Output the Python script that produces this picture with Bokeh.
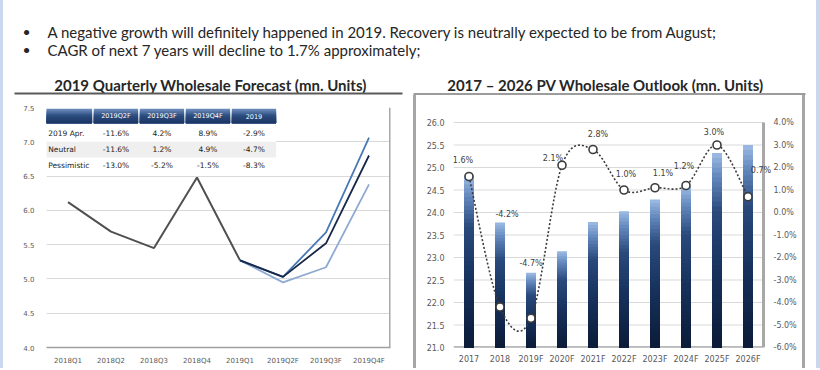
import numpy as np
from bokeh.plotting import figure
from bokeh.models import (Range1d, LinearAxis, FixedTicker, PrintfTickFormatter,
                          ColumnDataSource, Span, Div)
from bokeh.layouts import column, row
from bokeh.core.properties import value
from bokeh.embed import file_html
from bokeh.resources import INLINE

# ---------------- data ----------------
bullets = ["A negative growth will definitely happened in 2019. Recovery is neutrally expected to be from August;",
           "CAGR of next 7 years will decline to 1.7% approximately;"]
title_left = "2019 Quarterly Wholesale Forecast (mn. Units)"
title_right = "2017 \u2013 2026 PV Wholesale Outlook (mn. Units)"

quarters = ["2018Q1", "2018Q2", "2018Q3", "2018Q4", "2019Q1", "2019Q2F", "2019Q3F", "2019Q4F"]
hist_sales = [6.12, 5.69, 5.45, 6.48, 5.27]
apr_fc = [5.03, 5.68, 7.06]
neutral_fc = [5.03, 5.52, 6.80]
pess_fc = [4.95, 5.17, 6.38]
left_ticks = [4.0, 4.5, 5.0, 5.5, 6.0, 6.5, 7.0, 7.5]

table_cols = ["2019Q2F", "2019Q3F", "2019Q4F", "2019"]
table_rows = ["2019 Apr.", "Neutral", "Pessimistic"]
table_apr = ["-11.6%", "4.2%", "8.9%", "-2.9%"]
table_neutral = ["-11.6%", "1.2%", "4.9%", "-4.7%"]
table_pess = ["-13.0%", "-5.2%", "-1.5%", "-8.3%"]

years = ["2017", "2018", "2019F", "2020F", "2021F", "2022F", "2023F", "2024F", "2025F", "2026F"]
wholesale = [24.82, 23.78, 22.66, 23.14, 23.79, 24.03, 24.29, 24.58, 25.32, 25.50]
growth = [1.6, -4.2, -4.7, 2.1, 2.8, 1.0, 1.1, 1.2, 3.0, 0.7]
vol_ticks = [21.0, 21.5, 22.0, 22.5, 23.0, 23.5, 24.0, 24.5, 25.0, 25.5, 26.0]
pct_ticks = [-6, -5, -4, -3, -2, -1, 0, 1, 2, 3, 4]

# ---------------- helpers ----------------
def hex2rgb(h):
    h = h.lstrip("#")
    return np.array([int(h[i:i + 2], 16) for i in (0, 2, 4)], dtype=float)

def ramp(stops, f):
    pos = [s[0] for s in stops]
    cols = np.array([hex2rgb(s[1]) for s in stops])
    rgb = [np.interp(f, pos, cols[:, c]) for c in range(3)]
    return "#%02x%02x%02x" % tuple(int(round(v)) for v in rgb)

def smooth(xs, ys, n=24):
    P = np.column_stack([xs, ys]).astype(float)
    E = np.vstack([P[0], P, P[-1]])
    out = []
    t = np.linspace(0, 1, n)[:, None]
    for i in range(len(P) - 1):
        p0, p1, p2, p3 = E[i], E[i + 1], E[i + 2], E[i + 3]
        c1 = p1 + (p2 - p0) / 6.0
        c2 = p2 - (p3 - p1) / 6.0
        seg = (1 - t) ** 3 * p1 + 3 * (1 - t) ** 2 * t * c1 + 3 * (1 - t) * t ** 2 * c2 + t ** 3 * p2
        out.append(seg if i == 0 else seg[1:])
    S = np.vstack(out)
    return S[:, 0], S[:, 1]

TXT = "#262626"
TICK = "#595959"
TICKFONT = "DejaVu Sans"
CH = 273          # chart row height
TOPB, BOTB = 12, 21

# ---------------- header ----------------
HW, HH = 813, 95
hdr = figure(width=HW, height=HH, x_range=Range1d(0, HW), y_range=Range1d(HH, 0),
             output_backend="svg", toolbar_location=None, min_border=0,
             outline_line_color=None, x_axis_location=None, y_axis_location=None)
hdr.grid.visible = False
hdr.text(x=[19, 19], y=[31, 49], text=["\u2022", "\u2022"], text_font=value("Lato"),
         text_font_size="14px", text_color=TXT, text_align="left", text_baseline="middle")
hdr.text(x=[44, 44], y=[31, 49], text=bullets, text_font=value("Lato"),
         text_font_size="15px", text_color=TXT, text_align="left", text_baseline="middle")
hdr.text(x=[207, 602], y=[84, 84], text=[title_left, title_right], text_font=value("Lato"),
         text_font_style="bold", text_font_size="15px", text_color=TXT,
         text_align="center", text_baseline="middle")
hdr.segment(x0=[11], y0=[93], x1=[399], y1=[93], line_color="#5a5a5a", line_width=2)
hdr.segment(x0=[410], y0=[94], x1=[802], y1=[94], line_color="#9c9c9c", line_width=3)

# ---------------- left chart ----------------
lf = figure(width=410, height=CH, x_range=Range1d(-0.5, len(quarters) - 0.5),
            y_range=Range1d(left_ticks[0], left_ticks[-1]),
            output_backend="svg", toolbar_location=None,
            min_border_left=43, min_border_right=23, min_border_top=TOPB, min_border_bottom=BOTB,
            outline_line_color=None)
lf.xaxis.ticker = FixedTicker(ticks=list(range(len(quarters))))
lf.xaxis.major_label_overrides = {i: q for i, q in enumerate(quarters)}
lf.yaxis.ticker = FixedTicker(ticks=left_ticks)
lf.yaxis.formatter = PrintfTickFormatter(format="%.1f")
for ax in lf.axis:
    ax.major_tick_out = 0
    ax.major_tick_in = 0
    ax.minor_tick_out = 0
    ax.minor_tick_in = 0
    ax.major_tick_line_color = None
    ax.minor_tick_line_color = None
    ax.major_label_text_font = TICKFONT
    ax.major_label_text_font_size = "7px"
    ax.major_label_text_color = TICK
lf.yaxis.axis_line_color = None
lf.yaxis.major_label_standoff = 12
lf.xaxis.axis_line_color = "#a0a0a0"
lf.xaxis.axis_line_width = 1.5
lf.xaxis.major_label_standoff = 9
lf.xgrid.visible = False
lf.ygrid.ticker = FixedTicker(ticks=left_ticks)
lf.ygrid.grid_line_color = "#d9d9d9"
lf.add_layout(Span(location=len(quarters) - 0.5, dimension="height",
                   line_color="#a8a8a8", line_width=3))

# table (drawn inside plot area)
c_left = [-0.51, 0.60, 1.67, 2.74, 3.81]
c_right = [0.56, 1.63, 2.70, 3.77, 4.84]
h_top, h_bot = 7.48, 7.27
lf.quad(left=[c_left[0]], right=[c_right[-1]], bottom=[6.54], top=[h_bot],
        fill_color="white", line_color=None)
lf.quad(left=[c_left[0]], right=[c_right[-1]], bottom=[6.77], top=[7.0],
        fill_color="#efefef", line_color=None)
nh = 8
for k in range(nh):
    tp = h_top - (h_top - h_bot) * k / nh
    col = ramp([(0, "#6f8fc0"), (0.45, "#2e4f82"), (1, "#1b3462")], (k + 0.5) / nh)
    lf.quad(left=c_left, right=c_right, top=[tp] * 5, bottom=[h_bot] * 5,
            fill_color=col, line_color=None)
ccent = [(a + b) / 2 for a, b in zip(c_left[1:], c_right[1:])]
lf.text(x=ccent, y=[(h_top + h_bot) / 2] * 4, text=table_cols, text_font=value(TICKFONT),
        text_font_size="6.5px", text_color="white", text_align="center", text_baseline="middle")
row_y = [7.12, 6.887, 6.654]
lf.text(x=[-0.46] * 3, y=row_y, text=table_rows, text_font=value(TICKFONT),
        text_font_size="7.5px", text_color="#222222", text_align="left", text_baseline="middle")
for ry, vals in zip(row_y, [table_apr, table_neutral, table_pess]):
    lf.text(x=ccent, y=[ry] * 4, text=vals, text_font=value(TICKFONT),
            text_font_size="7.5px", text_color="#222222", text_align="center",
            text_baseline="middle")

n_h = len(hist_sales)
fx = list(range(n_h - 1, len(quarters)))
lf.line(x=list(range(n_h)), y=hist_sales, line_color="#505050", line_width=2)
lf.line(x=fx, y=[hist_sales[-1]] + pess_fc, line_color="#8eaad2", line_width=1.8)
lf.line(x=fx, y=[hist_sales[-1]] + apr_fc, line_color="#4a78b5", line_width=1.8)
lf.line(x=fx, y=[hist_sales[-1]] + neutral_fc, line_color="#17284a", line_width=1.8)

# ---------------- right chart ----------------
# frame top is shared with the left chart, so leave headroom above 26.0 / 4.0%;
# the frame also reaches a little past the last category so the last label is not cut.
head = 15.0 / 225.0
extra = 10.0 / 31.0
vspan = vol_ticks[-1] - vol_ticks[0]
pspan = pct_ticks[-1] - pct_ticks[0]
x0r, x1r = -0.5, len(years) - 0.5
rf = figure(width=386, height=CH, x_range=Range1d(x0r, x1r + extra),
            y_range=Range1d(vol_ticks[0], vol_ticks[-1] + vspan * head),
            output_backend="svg", toolbar_location=None,
            min_border_left=37, min_border_right=29, min_border_top=TOPB, min_border_bottom=BOTB,
            outline_line_color=None)
rf.extra_y_ranges = {"pct": Range1d(pct_ticks[0], pct_ticks[-1] + pspan * head)}
rax = LinearAxis(y_range_name="pct", ticker=FixedTicker(ticks=pct_ticks),
                 formatter=PrintfTickFormatter(format="%.1f%%"))
rf.add_layout(rax, "right")
rf.xaxis.ticker = FixedTicker(ticks=list(range(len(years))))
rf.xaxis.major_label_overrides = {i: y for i, y in enumerate(years)}
rf.yaxis[0].ticker = FixedTicker(ticks=vol_ticks)
rf.yaxis[0].formatter = PrintfTickFormatter(format="%.1f")
for ax in rf.axis:
    ax.major_tick_out = 0
    ax.major_tick_in = 0
    ax.minor_tick_out = 0
    ax.minor_tick_in = 0
    ax.major_tick_line_color = None
    ax.minor_tick_line_color = None
    ax.axis_line_color = None
    ax.major_label_text_font = TICKFONT
    ax.major_label_text_font_size = "8px"
    ax.major_label_text_color = TICK
rf.yaxis[0].major_label_standoff = 9
rax.major_label_standoff = 0
rf.xaxis.major_label_standoff = 7
rf.grid.visible = False
# gridlines, bottom axis line and right-hand frame edge of the plotting area
rf.segment(x0=[x0r] * len(vol_ticks), y0=vol_ticks, x1=[x1r] * len(vol_ticks), y1=vol_ticks,
           line_color="#d9d9d9", line_width=1)
rf.segment(x0=[x0r], y0=[vol_ticks[0]], x1=[x1r], y1=[vol_ticks[0]],
           line_color="#a0a0a0", line_width=2.5)
rf.segment(x0=[x1r], y0=[vol_ticks[0]], x1=[x1r], y1=[vol_ticks[-1]],
           line_color="#a8a8a8", line_width=3)

# gradient bars
base = vol_ticks[0]
xi = np.arange(len(years))
wv = np.array(wholesale)
stops = [(0, "#9dbce4"), (0.12, "#6388bd"), (0.3, "#2a4a7c"), (0.6, "#17325d"), (1, "#0c1b38")]
NS = 40
for k in range(NS):
    f = (k + 0.5) / NS
    tops = wv - (wv - base) * k / NS
    rf.vbar(x=xi, width=0.32, top=tops, bottom=base, fill_color=ramp(stops, f), line_color=None)

# smoothed dotted growth line
sx, sy = smooth(xi, growth)
rf.line(x=sx, y=sy, y_range_name="pct", line_color="#3c3c3c", line_width=1.6, line_dash="2 2")
rf.scatter(x=xi, y=growth, y_range_name="pct", marker="circle", size=8,
           fill_color="white", line_color="#3c3c3c", line_width=1.6)

lab_dx = [-6, 7, 0, -9, 5, 2, 8, -2, -3, 13]
lab_dy = [-16, -93, -55, -7, -15, -16, -14, -19, -13, -26]
lsrc = ColumnDataSource(dict(x=xi, y=growth, t=["%.1f%%" % g for g in growth],
                             dx=lab_dx, dy=lab_dy))
rf.text(x="x", y="y", text="t", x_offset="dx", y_offset="dy", source=lsrc, y_range_name="pct",
        text_font=value(TICKFONT), text_font_size="8px", text_color="#404040",
        text_align="center", text_baseline="middle")

# ---------------- layout ----------------
BORDER = "#a6a6a6"
STRIP = "#c9d8ec"
bl = Div(width=3, height=CH, margin=0, styles={"background-color": BORDER})
br = Div(width=3, height=CH, margin=0, styles={"background-color": BORDER})
sl = Div(width=3, height=HH + CH, margin=0, styles={"background-color": STRIP})
sr = Div(width=4, height=HH + CH, margin=0, styles={"background-color": STRIP})
main = column(hdr, row(lf, bl, rf, br, spacing=0), spacing=0)
layout = row(sl, main, sr, spacing=0)

open("out.html", "w").write(file_html(layout, INLINE))
